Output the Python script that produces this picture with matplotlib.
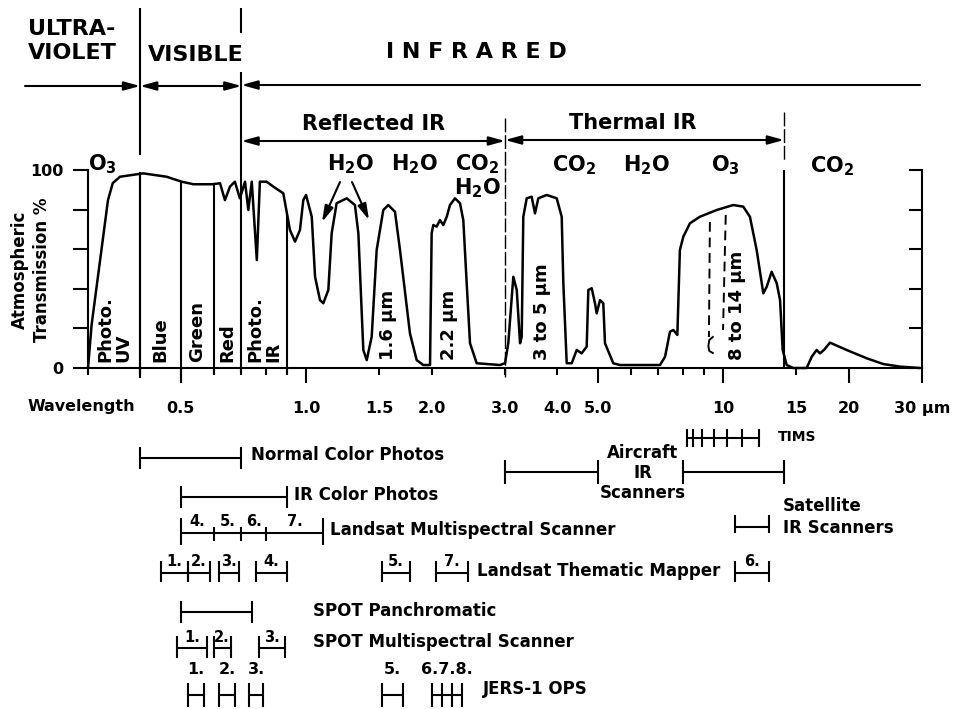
import numpy as np
import matplotlib
matplotlib.use("Agg")
import matplotlib.pyplot as plt

plt.rcParams['font.family'] = ['DejaVu Sans']
plt.rcParams['font.weight'] = 'bold'
plt.rcParams['mathtext.default'] = 'bf'

# atmospheric transmission curve (wavelength in um, transmission in %)
wavelength = [0.300, 0.306, 0.335, 0.344, 0.358, 0.407, 0.463, 0.503, 0.537, 0.596,
              0.622, 0.639, 0.657, 0.675, 0.694, 0.714, 0.727, 0.741, 0.762, 0.775,
              0.804, 0.835, 0.882, 0.915, 0.941, 0.967, 0.985, 1.000, 1.032, 1.051,
              1.080, 1.100, 1.131, 1.152, 1.184, 1.252, 1.310, 1.335, 1.372, 1.398,
              1.437, 1.477, 1.532, 1.575, 1.634, 1.680, 1.775, 1.842, 1.910, 1.983,
              2.001, 2.019, 2.057, 2.095, 2.134, 2.175, 2.214, 2.276, 2.340, 2.383,
              2.428, 2.473, 2.566, 2.918, 3.000, 3.055, 3.141, 3.201, 3.260, 3.290,
              3.319, 3.382, 3.476, 3.540, 3.606, 3.776, 3.991, 4.103, 4.140, 4.218,
              4.337, 4.457, 4.581, 4.710, 4.753, 4.842, 4.931, 4.977, 5.069, 5.162,
              5.211, 5.455, 5.661, 7.06, 7.26, 7.46, 7.60, 7.77, 7.88, 8.03,
              8.33, 8.80, 9.66, 10.58, 11.18, 11.60, 12.04, 12.49, 12.73, 13.08,
              13.45, 13.70, 13.90, 14.21, 14.74, 15.87, 16.32, 16.77, 17.08, 17.46,
              18.05, 19.79, 22.11, 24.23, 26.57, 29.67]
transmission = [0, 21.7, 84.8, 93.4, 96.6, 98.3, 96.6, 94.1, 92.8, 92.8,
                93.3, 84.8, 91.6, 94.1, 85.7, 94.1, 79.8, 94.1, 54.5, 94.1,
                94.1, 91.6, 88.2, 69.7, 63.8, 69.7, 84.8, 87.4, 76.4, 46.1,
                34.3, 32.7, 39.4, 68.0, 83.2, 85.7, 82.3, 68.0, 9.1, 4.0,
                15.8, 59.6, 79.8, 82.3, 78.9, 59.6, 17.5, 4.0, 1.5, 1.5,
                68.0, 72.2, 71.4, 74.7, 72.2, 76.4, 82.3, 85.7, 83.2, 74.7,
                42.8, 12.5, 2.4, 1.5, 2.4, 12.5, 46.1, 39.4, 12.5, 15.8,
                76.4, 85.7, 86.5, 78.1, 85.7, 87.4, 85.7, 76.4, 42.8, 2.4,
                2.4, 9.1, 7.4, 10.8, 39.4, 40.3, 32.7, 27.6, 34.3, 32.7,
                12.5, 2.4, 1.5, 1.5, 5.7, 18.3, 19.2, 16.7, 59.6, 66.3,
                73.1, 76.4, 79.8, 82.3, 81.5, 76.4, 59.6, 37.7, 41.1, 48.6,
                42.8, 34.3, 9.1, 1.5, 0, 0, 5.7, 9.1, 7.4, 9.1,
                12.8, 9.1, 4.9, 2.0, 0.7, 0]

# spectral regions
uv_vis, vis_ir, refl_therm, therm_end = 0.4, 0.7, 3.0, 14.0
photo_edges = [0.3, 0.4, 0.5, 0.6, 0.7, 0.9]
photo_names = ['Photo.\nUV', 'Blue', 'Green', 'Red', 'Photo.\nIR']

# sensor bands (um)
normal_color = (0.4, 0.7)
ir_color = (0.5, 0.9)
mss_edges = [0.5, 0.6, 0.7, 0.8, 1.1]
mss_names = ['4.', '5.', '6.', '7.']
tm_bands = [(0.45, 0.52), (0.52, 0.59), (0.62, 0.69), (0.76, 0.90),
            (1.52, 1.78), (2.05, 2.45), (10.7, 12.9)]
tm_names = ['1.', '2.', '3.', '4.', '5.', '7.', '6.']
spot_pan = (0.50, 0.74)
spot_ms = [(0.49, 0.58), (0.60, 0.66), (0.77, 0.89)]
spot_names = ['1.', '2.', '3.']
jers_bands = [(0.52, 0.57), (0.62, 0.675), (0.73, 0.79), (1.52, 1.71)]
jers_names = ['1.', '2.', '3.', '5.']
jers_swir = [2.00, 2.12, 2.24, 2.37]
aircraft_ir = [(3.0, 5.0), (8.0, 14.0)]
tims_edges = [8.2, 8.45, 8.9, 9.5, 10.2, 11.1, 12.2]
satellite_ir = (10.7, 12.9)

W, H = 959, 709
fig = plt.figure(figsize=(W / 100, H / 100), dpi=100)


def xpx(p):
    # pixel column -> wavelength (layout helper for free text)
    return 0.3 * 10 ** (2 * (p - 88) / 834)


# main transmission axes
ax = fig.add_axes([88 / W, 1 - 368 / H, 834 / W, 198 / H])
ax.set_xscale('log')
ax.set_xlim(0.3, 30)
ax.set_ylim(0, 100)
ax.plot(wavelength, transmission, color='k', lw=1.8, clip_on=False,
        solid_joinstyle='round', solid_capstyle='round')

major = [0.5, 1.0, 5.0, 10, 20, 30]
ax.set_xticks(major, ['0.5', '1.0', '5.0', '10', '20', '30 \u03bcm'])
minor = [0.3, 0.4, 0.6, 0.7, 0.8, 0.9, 1.5, 2.0, 3.0, 4.0, 6, 7, 8, 9, 15]
minor_lab = {1.5: '1.5', 2.0: '2.0', 3.0: '3.0', 4.0: '4.0', 15: '15'}
ax.set_xticks(minor, [minor_lab.get(m, '') for m in minor], minor=True)
ax.tick_params(axis='x', which='major', length=10.8, width=1.5, pad=13, labelsize=11.5)
ax.tick_params(axis='x', which='minor', length=5, width=1.5, pad=18.7, labelsize=11.5)
ax.set_yticks([0, 20, 40, 60, 80, 100], ['0', '', '', '', '', '100'])
ax.tick_params(axis='y', length=10.8, width=1.5, pad=7, labelsize=11.5)
for s in ['top', 'right']:
    ax.spines[s].set_visible(False)
for s in ['left', 'bottom']:
    ax.spines[s].set_linewidth(1.5)

axr = ax.twinx()
axr.set_ylim(0, 100)
axr.set_yticks([0, 20, 40, 60, 80, 100])
axr.tick_params(axis='y', direction='in', length=9.4, width=1.5, labelright=False)
for s in ['top', 'left', 'bottom']:
    axr.spines[s].set_visible(False)
axr.spines['right'].set_linewidth(1.5)

# photographic band boundaries
for b in photo_edges[1:]:
    if b == vis_ir:
        continue
    top = np.interp(np.log10(b), np.log10(wavelength), transmission)
    ax.vlines(b, -6 if b == 0.5 else -3, top, color='k', lw=1.5, clip_on=False)
for lo, hi, name in zip(photo_edges[:-1], photo_edges[1:], photo_names):
    ax.text(np.sqrt(lo * hi), 3, name, rotation=90, rotation_mode='anchor',
            ha='left', va='center', fontsize=13, linespacing=1.0)

for x, name in [(1.57, '1.6 \u03bcm'), (2.2, '2.2 \u03bcm'),
                (3.68, '3 to 5 \u03bcm'), (10.8, '8 to 14 \u03bcm')]:
    ax.text(x, 4, name, rotation=90, rotation_mode='anchor',
            ha='left', va='center', fontsize=13)

# overlay in (wavelength, pixel row) coordinates
ov = fig.add_axes([0, 0, 1, 1], facecolor='none')
ov.set_xscale('log')
ov.set_xlim(xpx(0), xpx(W))
ov.set_ylim(H, 0)
ov.axis('off')

lw = 1.5
aprops = dict(color='k', lw=lw, shrinkA=0, shrinkB=0, mutation_scale=12)
head = ',head_length=0.8,head_width=0.22'


def arrow(x0, x1, y, style):
    ov.annotate('', xy=(x1, y), xytext=(x0, y),
                arrowprops=dict(arrowstyle=style + head, **aprops))


# header
ov.text(xpx(28), 41, 'ULTRA-\nVIOLET', ha='left', va='center', fontsize=16)
ov.text(xpx(148), 55, 'VISIBLE', ha='left', va='center', fontsize=16)
ov.text(xpx(476), 52, 'I N F R A R E D', ha='center', va='center', fontsize=16)
arrow(xpx(25), uv_vis, 86, '-|>')
arrow(uv_vis, vis_ir, 86, '<|-|>')
arrow(xpx(920), vis_ir, 85, '-|>')
ov.vlines(uv_vis, 8, 155, color='k', lw=lw)
ov.vlines(uv_vis, 172, 378, color='k', lw=lw)
ov.vlines(vis_ir, 8, 33, color='k', lw=lw)
ov.vlines(vis_ir, 72, 372, color='k', lw=lw)

ov.text(np.sqrt(vis_ir * refl_therm), 124, 'Reflected IR', ha='center', va='center', fontsize=15)
ov.text(xpx(633), 123, 'Thermal IR', ha='center', va='center', fontsize=15)
arrow(vis_ir, refl_therm, 141, '<|-|>')
arrow(refl_therm, therm_end, 140, '<|-|>')
ov.vlines(refl_therm, 118, 377, color='k', lw=1.0, linestyles=(0, (10, 2)))
ov.vlines(therm_end, 112, 160, color='k', lw=1.0, linestyles=(0, (10, 2)))
ov.vlines(therm_end, 170, 368, color='k', lw=lw)

# absorbing gases
gases = [(102, 164, 'O$_3$'), (351, 164, 'H$_2$O'), (415, 164, 'H$_2$O'),
         (477, 164, 'CO$_2$'), (478, 188, 'H$_2$O'), (574, 165, 'CO$_2$'),
         (647, 165, 'H$_2$O'), (725, 165, 'O$_3$'), (832, 166, 'CO$_2$')]
for px, py, name in gases:
    ov.text(xpx(px), py, name, ha='center', va='center', fontsize=15)
for x0, y0, x1, y1 in [(340, 182, 322, 222), (352, 182, 369, 220)]:
    ov.annotate('', xy=(xpx(x1), y1), xytext=(xpx(x0), y0),
                arrowprops=dict(arrowstyle='-|>' + head, **aprops))

# dashed O3 absorption outline in the 8-14 um window
ov.plot([9.3, 9.25], [222, 337], color='k', lw=1.4, ls=(0, (5, 3)))
ov.plot([10.15, 10.0], [215, 330], color='k', lw=1.4, ls=(0, (5, 3)))
ov.plot([9.45, 9.27, 9.22, 9.27, 9.45], [337, 340, 346, 351, 353], color='k', lw=1.4)

# axis labels
ov.text(xpx(28), 407, 'Wavelength', ha='left', va='center', fontsize=11.5)
ov.text(xpx(31), 270, 'Atmospheric\nTransmission %', rotation=90, ha='center',
        va='center', fontsize=12, linespacing=1.3)


def bar(lo, hi, y, up=11, down=11):
    ov.hlines(y, lo, hi, color='k', lw=lw)
    ov.vlines([lo, hi], y - up, y + down, color='k', lw=lw)


def label_right(x, y, text, off=7, size=12):
    ov.annotate(text, xy=(x, y), xytext=(off, 0), textcoords='offset points',
                ha='left', va='center', fontsize=size)


# sensors
bar(*normal_color, 458)
label_right(normal_color[1], 455, 'Normal Color Photos')

bar(*ir_color, 497)
label_right(ir_color[1], 495, 'IR Color Photos', off=5)

bar(mss_edges[0], mss_edges[-1], 533, up=15, down=12)
ov.vlines(mss_edges[1:-1], 527, 541, color='k', lw=lw)
for lo, hi, name in zip(mss_edges[:-1], mss_edges[1:], mss_names):
    ov.text(np.sqrt(lo * hi), 521, name, ha='center', va='center', fontsize=10.5)
label_right(mss_edges[-1], 530, 'Landsat Multispectral Scanner', off=5)

for (lo, hi), name in zip(tm_bands, tm_names):
    bar(lo, hi, 573, up=12, down=9)
    ov.text(np.sqrt(lo * hi), 562, name, ha='center', va='center', fontsize=10.5)
label_right(tm_bands[5][1], 571, 'Landsat Thematic Mapper', off=6)

bar(*spot_pan, 612)
ov.text(xpx(313), 611, 'SPOT Panchromatic', ha='left', va='center', fontsize=12)

for (lo, hi), name in zip(spot_ms, spot_names):
    bar(lo, hi, 648, up=12, down=10)
    ov.text(np.sqrt(lo * hi), 637, name, ha='center', va='center', fontsize=10.5)
ov.text(xpx(313), 642, 'SPOT Multispectral Scanner', ha='left', va='center', fontsize=12)

for (lo, hi), name in zip(jers_bands, jers_names):
    bar(lo, hi, 695, up=12, down=12)
    ov.text(np.sqrt(lo * hi), 670, name, ha='center', va='center', fontsize=11.5)
bar(jers_swir[0], jers_swir[-1], 695, up=12, down=12)
ov.vlines(jers_swir[1:-1], 683, 707, color='k', lw=lw)
ov.text(np.sqrt(jers_swir[0] * jers_swir[-1]), 670, '6.7.8.', ha='center', va='center', fontsize=11.5)
ov.text(xpx(483), 689, 'JERS-1 OPS', ha='left', va='center', fontsize=12)

for lo, hi in aircraft_ir:
    bar(lo, hi, 472, up=12, down=12)
ov.text(xpx(643), 473, 'Aircraft\nIR\nScanners', ha='center', va='center',
        fontsize=12, linespacing=1.15)

bar(tims_edges[0], tims_edges[-1], 438, up=9, down=9)
ov.vlines(tims_edges[1:-1], 429, 447, color='k', lw=lw)
ov.text(xpx(778), 437, 'TIMS', ha='left', va='center', fontsize=10)

bar(*satellite_ir, 527, up=12, down=6)
ov.text(xpx(783), 517, 'Satellite\nIR Scanners', ha='left', va='center',
        fontsize=12, linespacing=1.25)

fig.savefig('out.png', dpi=100, facecolor='white')
